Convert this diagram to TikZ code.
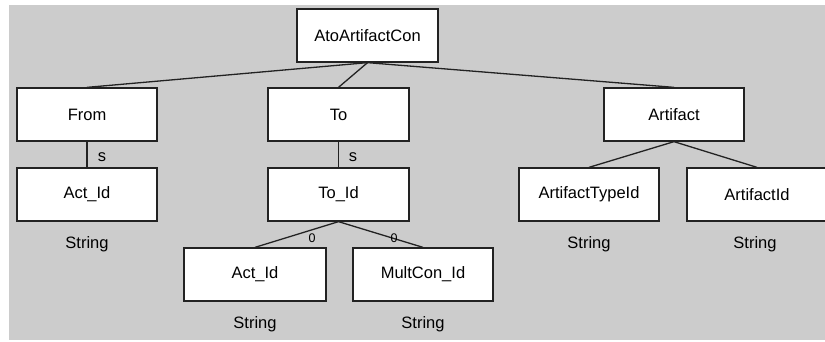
\documentclass[tikz,border=0pt]{standalone}
\usepackage{fontspec}
\setmainfont{Liberation Sans}
\definecolor{bg}{HTML}{CCCCCC}
\definecolor{ln}{HTML}{222222}
\begin{document}
\begin{tikzpicture}[x=1pt,y=-1pt,
  box/.style={draw=ln, fill=white, line width=1.3pt, minimum width=140pt, minimum height=53pt, inner sep=0pt, font=\fontsize{16.5}{19}\selectfont},
  typ/.style={anchor=base, inner sep=0pt, font=\fontsize{16.5}{19}\selectfont},
  elab/.style={inner sep=0pt, font=\fontsize{16.5}{19}\selectfont},
  zlab/.style={inner sep=0pt, font=\fontsize{12.5}{14}\selectfont},
  edge/.style={draw=ln, line width=1.3pt}]
\clip (0,0) rectangle (825,341);
\fill[white] (0,0) rectangle (825,341);
\fill[bg] (9,5) rectangle (825,340);

\node[box, minimum width=141pt] (root) at (367.5,35.5) {AtoArtifactCon};
\node[box] (from) at (87,114.5) {From};
\node[box, minimum width=141pt] (to) at (338.5,114.5) {To};
\node[box] (art) at (674,114.5) {Artifact};
\node[box] (act1) at (87,194.5) {Act\_Id};
\node[box, minimum width=141pt] (toid) at (338.5,194.5) {To\_Id};
\node[box] (arttype) at (589,194.5) {ArtifactTypeId};
\node[box] (artid) at (757,194.5) {ArtifactId};
\node[box, minimum width=142pt] (act2) at (255,274.5) {Act\_Id};
\node[box] (mult) at (423,274.5) {MultCon\_Id};

\node[typ] (s1) at (87,248) {String};
\node[typ] (s2) at (589,248) {String};
\node[typ] (s3) at (755,248) {String};
\node[typ] (s4) at (255,328) {String};
\node[typ] (s5) at (423,328) {String};

\draw[edge] (root.south) -- (from.north);
\draw[edge] (root.south) -- (to.north);
\draw[edge] (root.south) -- (art.north);
\draw[edge] (from.south) -- (act1.north);
\draw[edge] (to.south) -- (toid.north);
\draw[edge] (art.south) -- (arttype.north);
\draw[edge] (art.south) -- (artid.north);
\draw[edge] (toid.south) -- (act2.north);
\draw[edge] (toid.south) -- (mult.north);

\node[elab] (ls1) at (102,157) {s};
\node[elab] (ls2) at (353,157) {s};
\node[zlab] (l01) at (312,238) {0};
\node[zlab] (l02) at (394,238) {0};
\end{tikzpicture}
\end{document}
